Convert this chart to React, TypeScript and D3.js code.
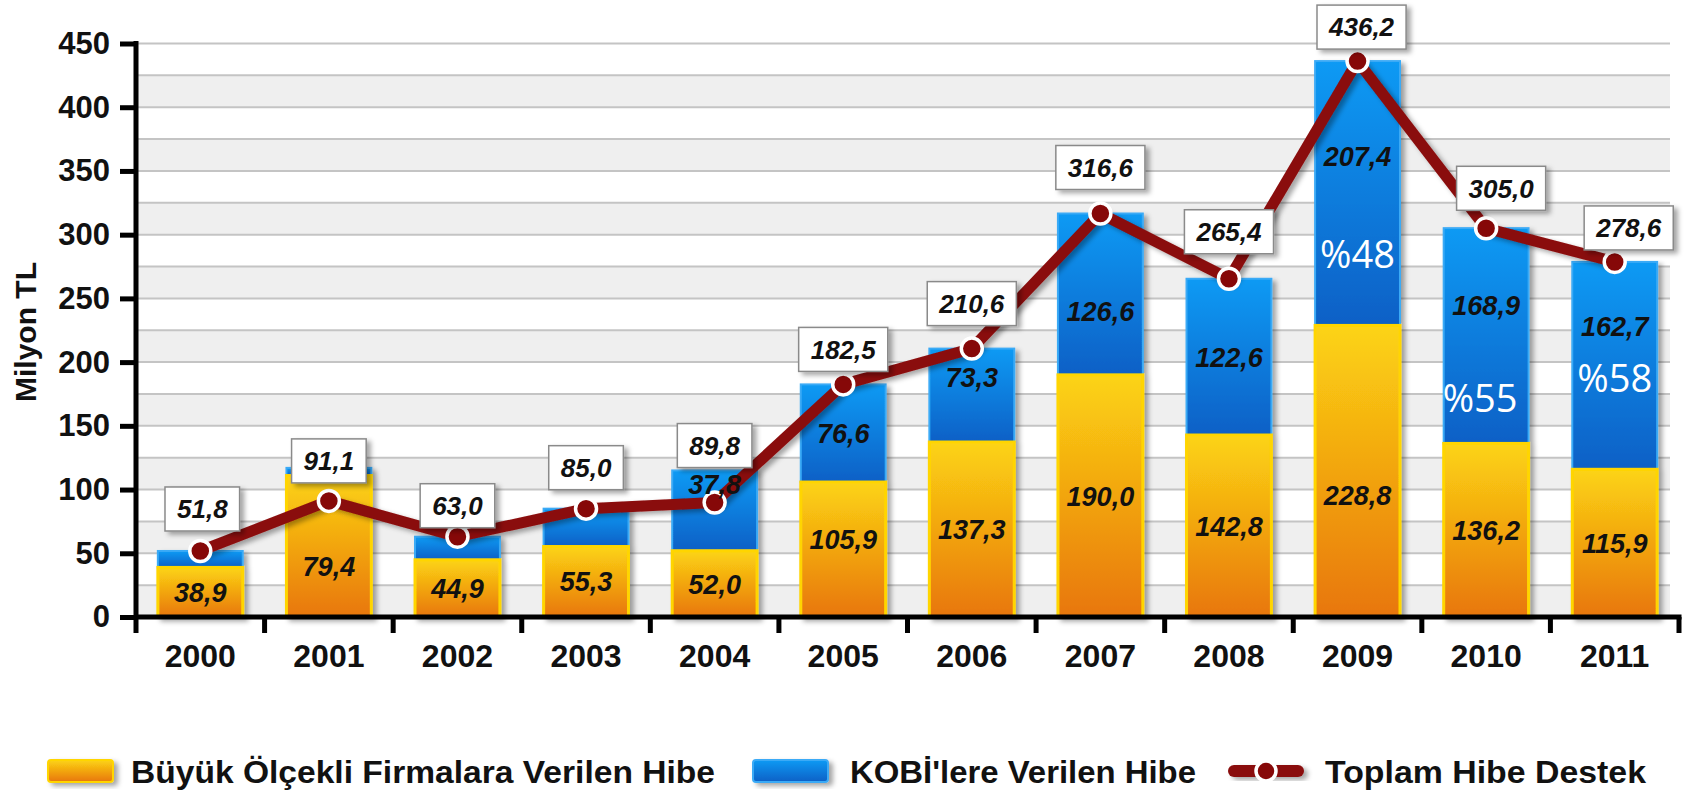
import React, { useRef, useEffect } from "react";
import * as d3 from "d3";

const years = ["2000", "2001", "2002", "2003", "2004", "2005", "2006", "2007", "2008", "2009", "2010", "2011"];
// Büyük Ölçekli Firmalara Verilen Hibe (milyon TL) - printed values
const largeFirms = [38.9, 79.4, 44.9, 55.3, 52.0, 105.9, 137.3, 190.0, 142.8, 228.8, 136.2, 115.9];
// KOBİ'lere Verilen Hibe (milyon TL) - printed values (first four not printed)
const smeGrants = [12.9, 11.7, 18.1, 29.7, 37.8, 76.6, 73.3, 126.6, 122.6, 207.4, 168.9, 162.7];
// Toplam Hibe Destek (milyon TL)
const totals = [51.8, 91.1, 63.0, 85.0, 89.8, 182.5, 210.6, 316.6, 265.4, 436.2, 305.0, 278.6];
// segment heights as drawn in the picture (2001 and 2004 are drawn taller than printed)
const largeFirmsDrawn = [38.9, 111.0, 44.9, 55.3, 52.0, 105.9, 137.3, 190.0, 142.8, 228.8, 136.2, 115.9];
const smeGrantsDrawn = [12.9, 6.0, 18.1, 29.7, 63.0, 76.6, 73.3, 126.6, 122.6, 207.4, 168.9, 162.7];
// years whose KOBİ value is written inside the bar
const smeLabelYears = ["2004", "2005", "2006", "2007", "2008", "2009", "2010", "2011"];
// KOBİ share of the total, written in white
const shareYears = ["2009", "2010", "2011"];
const shareValues = [48, 55, 58];
const yTicks = [0, 50, 100, 150, 200, 250, 300, 350, 400, 450];

const legendItems = ["Büyük Ölçekli Firmalara Verilen Hibe", "KOBİ'lere Verilen Hibe", "Toplam Hibe Destek"];

// small hand nudges (px) for labels
const orangeNudge: Record<string, number> = { "2005": -10, "2009": 24 };
const blueNudge: Record<string, number> = { "2004": -42, "2006": -18, "2007": 17, "2011": -10 };
const shareNudge: Record<string, number> = { "2009": 11, "2010": 22, "2011": -27 };
// total box offset from its point [dx, dy]
const boxOffset: Record<string, [number, number]> = {
    "2000": [2, -42], "2001": [0, -40], "2002": [0, -31], "2003": [0, -41],
    "2004": [0, -57], "2005": [0, -35], "2006": [0, -45], "2007": [0, -46],
    "2008": [0, -47], "2009": [4, -34], "2010": [15, -40], "2011": [14, -34],
};

const W = 1687;
const H = 793;
const FONT = "'Liberation Sans', Arial, Helvetica, sans-serif";
const fmt = (v: number) => d3.format(".1f")(v).replace(".", ",");

const App = () => {
    const ref = useRef<SVGSVGElement>(null);

    useEffect(() => {
        if (!ref.current) return;
        const svg = d3.select(ref.current);
        svg.selectAll("*").remove();

        const left = 136;
        const right = 1679;
        const x = d3.scaleBand().domain(years).range([left, right]).padding(0);
        const y = d3.scaleLinear().domain([0, 450]).range([617, 43.5]);
        const barW = x.bandwidth() * 0.66;
        const cx = (yr: string) => (x(yr) as number) + x.bandwidth() / 2;

        const defs = svg.append("defs");
        const og = defs.append("linearGradient").attr("id", "orangeGrad").attr("x1", 0).attr("y1", 0).attr("x2", 0).attr("y2", 1);
        og.append("stop").attr("offset", "0%").attr("stop-color", "#fcd414");
        og.append("stop").attr("offset", "100%").attr("stop-color", "#e8760a");
        const bg = defs.append("linearGradient").attr("id", "blueGrad").attr("x1", 0).attr("y1", 0).attr("x2", 0).attr("y2", 1);
        bg.append("stop").attr("offset", "0%").attr("stop-color", "#0a9af4");
        bg.append("stop").attr("offset", "100%").attr("stop-color", "#0860c6");
        const sh = defs.append("filter").attr("id", "shadow").attr("x", "-20%").attr("y", "-20%").attr("width", "150%").attr("height", "150%");
        sh.append("feDropShadow").attr("dx", 4).attr("dy", 3).attr("stdDeviation", 2.5)
            .attr("flood-color", "#000").attr("flood-opacity", 0.35);

        // alternating background bands + grid lines
        const grid = svg.append("g");
        d3.range(0, 450, 50).forEach((v) => {
            grid.append("rect")
                .attr("x", left).attr("width", 1670 - left)
                .attr("y", y(v + 25)).attr("height", y(v) - y(v + 25))
                .attr("fill", "#efefef");
        });
        d3.range(25, 451, 25).forEach((v) => {
            grid.append("line")
                .attr("x1", left).attr("x2", 1670)
                .attr("y1", y(v)).attr("y2", y(v))
                .attr("stroke", "#c4c4c4").attr("stroke-width", 2);
        });

        // stacked bars
        const bars = svg.append("g").attr("filter", "url(#shadow)");
        years.forEach((yr, i) => {
            const x0 = cx(yr) - barW / 2;
            const low = largeFirmsDrawn[i];
            const top = low + smeGrantsDrawn[i];
            bars.append("rect")
                .attr("x", x0).attr("width", barW)
                .attr("y", y(top)).attr("height", y(low) - y(top))
                .attr("fill", "url(#blueGrad)")
                .attr("stroke", "#3aaaf6").attr("stroke-width", 2);
            bars.append("rect")
                .attr("x", x0).attr("width", barW)
                .attr("y", y(low)).attr("height", y(0) - y(low))
                .attr("fill", "url(#orangeGrad)")
                .attr("stroke", "#ffd500").attr("stroke-width", 3);
        });

        // share labels
        shareYears.forEach((yr, k) => {
            const i = years.indexOf(yr);
            svg.append("text")
                .attr("x", cx(yr) - (yr === "2010" ? 6 : 0))
                .attr("y", y(largeFirms[i] + smeGrants[i] * 0.31) + (shareNudge[yr] || 0)).attr("dy", "0.36em")
                .attr("text-anchor", "middle")
                .attr("font-family", "'Open Sans', 'Noto Sans', sans-serif")
                .attr("font-size", 38).attr("fill", "#fff")
                .text("%" + shareValues[k]);
        });

        // total line
        const line = d3.line<number>()
            .x((_, i) => cx(years[i]))
            .y((d) => y(d));
        svg.append("path")
            .datum(totals)
            .attr("fill", "none")
            .attr("stroke", "#8a0c0c")
            .attr("stroke-width", 11)
            .attr("stroke-linejoin", "round")
            .attr("filter", "url(#shadow)")
            .attr("d", line);
        svg.append("g").selectAll("circle").data(totals).join("circle")
            .attr("cx", (_, i) => cx(years[i]))
            .attr("cy", (d) => y(d))
            .attr("r", 10.5)
            .attr("fill", "#860808")
            .attr("stroke", "#fff")
            .attr("stroke-width", 3.5);

        // values inside bars
        const inner = svg.append("g")
            .attr("font-family", FONT).attr("font-weight", "bold").attr("font-style", "italic")
            .attr("font-size", 27).attr("fill", "#111").attr("text-anchor", "middle");
        years.forEach((yr, i) => {
            inner.append("text")
                .attr("x", cx(yr)).attr("y", y(largeFirms[i] / 2) + (orangeNudge[yr] || 0)).attr("dy", "0.36em")
                .text(fmt(largeFirms[i]));
            if (smeLabelYears.includes(yr)) {
                const share = shareYears.includes(yr);
                const pos = largeFirms[i] + smeGrants[i] * (share ? 0.64 : 0.5);
                inner.append("text")
                    .attr("x", cx(yr)).attr("y", y(pos) + (blueNudge[yr] || 0)).attr("dy", "0.36em")
                    .text(fmt(smeGrants[i]));
            }
        });

        // total boxes
        const boxes = svg.append("g").attr("font-family", FONT).attr("font-weight", "bold")
            .attr("font-style", "italic").attr("font-size", 26);
        totals.forEach((t, i) => {
            const [dx, dy] = boxOffset[years[i]] || [0, -42];
            const g = boxes.append("g").attr("transform", `translate(${cx(years[i]) + dx},${y(t) + dy})`);
            const rect = g.append("rect").attr("fill", "#fff").attr("stroke", "#8a8a8a")
                .attr("stroke-width", 1.5).attr("filter", "url(#shadow)");
            const txt = g.append("text").attr("text-anchor", "middle").attr("dy", "0.36em")
                .attr("fill", "#111").text(fmt(t));
            const bw = (txt.node() as SVGTextElement).getComputedTextLength() + 24;
            rect.attr("x", -bw / 2).attr("y", -22).attr("width", bw).attr("height", 44);
            txt.raise();
        });

        // y axis
        const yAxis = svg.append("g")
            .attr("transform", `translate(${left},0)`)
            .call(d3.axisLeft(y).tickValues(yTicks).tickSize(16).tickSizeOuter(0).tickPadding(10));
        yAxis.select(".domain").remove();
        yAxis.selectAll(".tick line").attr("stroke", "#000").attr("stroke-width", 5);
        yAxis.selectAll(".tick text")
            .attr("font-family", FONT).attr("font-weight", "bold").attr("font-size", 31).attr("fill", "#111");
        svg.append("line")
            .attr("x1", left).attr("x2", left).attr("y1", y(450) - 2.5).attr("y2", 633)
            .attr("stroke", "#000").attr("stroke-width", 5);

        // x axis
        svg.append("line")
            .attr("x1", left).attr("x2", right + 2.5).attr("y1", y(0)).attr("y2", y(0))
            .attr("stroke", "#000").attr("stroke-width", 5);
        years.forEach((yr) => {
            const xb = (x(yr) as number) + x.bandwidth();
            svg.append("line")
                .attr("x1", xb).attr("x2", xb).attr("y1", y(0)).attr("y2", 633)
                .attr("stroke", "#000").attr("stroke-width", 5);
            svg.append("text")
                .attr("x", cx(yr)).attr("y", 655).attr("dy", "0.36em")
                .attr("text-anchor", "middle")
                .attr("font-family", FONT).attr("font-weight", "bold").attr("font-size", 32).attr("fill", "#111")
                .text(yr);
        });

        svg.append("text")
            .attr("transform", "translate(25,332) rotate(-90)")
            .attr("text-anchor", "middle").attr("dy", "0.36em")
            .attr("font-family", FONT).attr("font-weight", "bold").attr("font-size", 30).attr("fill", "#111")
            .text("Milyon TL");

        // legend
        const lg = svg.append("g").attr("font-family", FONT).attr("font-weight", "bold")
            .attr("font-size", 32).attr("fill", "#111");
        const ly = 771;
        lg.append("rect").attr("x", 48).attr("y", ly - 11).attr("width", 65).attr("height", 22).attr("rx", 3)
            .attr("fill", "url(#orangeGrad)").attr("stroke", "#ffd500").attr("stroke-width", 2).attr("filter", "url(#shadow)");
        lg.append("text").attr("x", 131).attr("y", ly).attr("dy", "0.36em")
            .attr("textLength", 584).attr("lengthAdjust", "spacingAndGlyphs").text(legendItems[0]);
        lg.append("rect").attr("x", 753).attr("y", ly - 11).attr("width", 75).attr("height", 22).attr("rx", 3)
            .attr("fill", "url(#blueGrad)").attr("stroke", "#3aaaf6").attr("stroke-width", 2).attr("filter", "url(#shadow)");
        lg.append("text").attr("x", 850).attr("y", ly).attr("dy", "0.36em")
            .attr("textLength", 346).attr("lengthAdjust", "spacingAndGlyphs").text(legendItems[1]);
        lg.append("rect").attr("x", 1228).attr("y", ly - 6).attr("width", 76).attr("height", 12).attr("rx", 6)
            .attr("fill", "#8a0c0c").attr("filter", "url(#shadow)");
        lg.append("circle").attr("cx", 1266).attr("cy", ly).attr("r", 10)
            .attr("fill", "#860808").attr("stroke", "#fff").attr("stroke-width", 3.5);
        lg.append("text").attr("x", 1325).attr("y", ly).attr("dy", "0.36em")
            .attr("textLength", 321).attr("lengthAdjust", "spacingAndGlyphs").text(legendItems[2]);
    }, []);

    return (
        <svg
            ref={ref}
            width={W}
            height={H}
            style={{ position: "absolute", left: 0, top: 0, background: "#fff" }}
        />
    );
};

export default App;
